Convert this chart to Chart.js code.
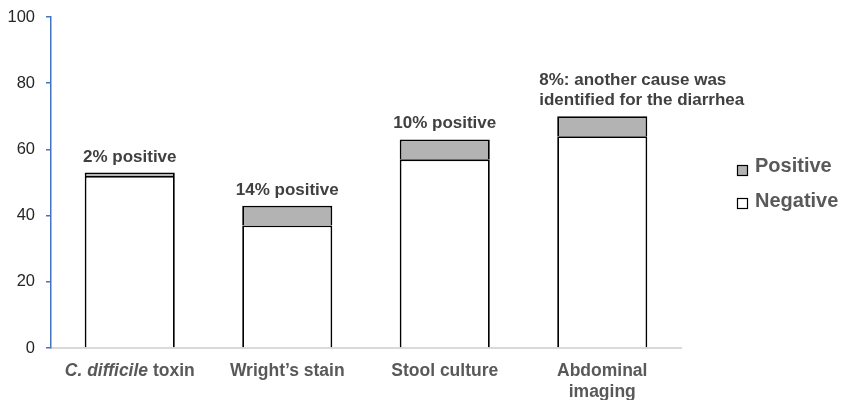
<!DOCTYPE html>
<html>
<head>
<meta charset="utf-8">
<script src="https://cdn.jsdelivr.net/npm/chart.js@4/dist/chart.umd.min.js"></script>
<style>
    html, body { margin: 0; padding: 0; background: #ffffff; }
    #wrap { width: 842px; height: 400px; }
</style>
</head>
<body>
<div id="wrap"><canvas id="stock-chart" width="842" height="400"></canvas></div>
<script>
// dados
const categories = ['C. difficile toxin', 'Wright\u2019s stain', 'Stool culture', 'Abdominal imaging'];
const xLabels = [['*C. difficile* toxin'], ['Wright\u2019s stain'], ['Stool culture'], ['Abdominal', 'imaging']];
const negativeValues = [52, 37, 57, 64];
const positiveValues = [1, 6, 6, 6];
const barNotes = [['2% positive'], ['14% positive'], ['10% positive'], ['8%: another cause was', 'identified for the diarrhea']];
const yTicks = [0, 20, 40, 60, 80, 100];

document.addEventListener("DOMContentLoaded", function() {
    const ctx = document.getElementById('stock-chart').getContext('2d');
    const sans = '"Liberation Sans", Arial, sans-serif';

    // rótulos do eixo x (com parte em itálico) + notas acima das barras + legenda
    const extras = {
        id: 'extras',
        afterDraw(chart) {
            const c = chart.ctx;
            const xs = chart.scales.x;
            c.save();
            c.fillStyle = '#595959';
            c.textBaseline = 'middle';
            xLabels.forEach(function(lines, i) {
                const cx = xs.getPixelForValue(i);
                lines.forEach(function(line, j) {
                    const raw = line.split('*');
                    const parts = [];
                    raw.forEach(function(p, k) {
                        if (p !== '') parts.push({ text: p, italic: k % 2 === 1 });
                    });
                    const widths = parts.map(function(p) {
                        c.font = (p.italic ? 'italic ' : '') + 'bold 17.5px ' + sans;
                        return c.measureText(p.text).width;
                    });
                    const total = widths.reduce(function(a, b) { return a + b; }, 0);
                    let x = cx - total / 2;
                    parts.forEach(function(p, k) {
                        c.font = (p.italic ? 'italic ' : '') + 'bold 17.5px ' + sans;
                        c.textAlign = 'left';
                        c.fillText(p.text, x, 371 + j * 21);
                        x += widths[k];
                    });
                });
            });

            // notas acima das barras
            const meta = chart.getDatasetMeta(1);
            c.fillStyle = '#404040';
            c.font = 'bold 17px ' + sans;
            c.textBaseline = 'alphabetic';
            barNotes.forEach(function(lines, i) {
                const bar = meta.data[i];
                const top = bar.y - 11;
                lines.forEach(function(line, j) {
                    const y = top - (lines.length - 1 - j) * 20;
                    if (lines.length > 1) {
                        c.textAlign = 'left';
                        c.fillText(line, bar.x - 63, y);
                    } else {
                        c.textAlign = 'center';
                        c.fillText(line, bar.x, y);
                    }
                });
            });

            // legenda
            const items = [chart.data.datasets[1], chart.data.datasets[0]];
            c.font = 'bold 20px ' + sans;
            c.textAlign = 'left';
            items.forEach(function(ds, k) {
                const by = 165 + k * 33;
                c.fillStyle = ds.backgroundColor;
                c.fillRect(737.5, by + 0.5, 10, 10);
                c.strokeStyle = '#000000';
                c.lineWidth = 1.2;
                c.strokeRect(737.5, by + 0.5, 10, 10);
                c.fillStyle = '#595959';
                c.fillText(ds.label, 755, by + 7 + (k * 2));
            });
            c.restore();
        }
    };

    new Chart(ctx, {
        type: 'bar',
        data: {
            labels: categories,
            datasets: [{
                label: 'Negative',
                data: negativeValues,
                backgroundColor: '#ffffff',
                borderColor: '#000000',
                borderWidth: 1.8,
                barPercentage: 0.572,
                categoryPercentage: 1
            }, {
                label: 'Positive',
                data: positiveValues,
                backgroundColor: '#b3b3b3',
                borderColor: '#000000',
                borderWidth: 1.8,
                barPercentage: 0.572,
                categoryPercentage: 1
            }]
        },
        options: {
            responsive: false,
            animation: false,
            devicePixelRatio: 1,
            layout: { padding: { left: 8, right: 161, top: 17, bottom: 0 } },
            plugins: {
                legend: { display: false },
                tooltip: { enabled: false }
            },
            scales: {
                x: {
                    stacked: true,
                    grid: { display: false },
                    border: { color: '#d9d9d9', width: 2 },
                    ticks: { display: false },
                    afterFit: function(scale) { scale.height = 52; }
                },
                y: {
                    stacked: true,
                    min: 0,
                    max: 100,
                    afterBuildTicks: function(scale) {
                        scale.ticks = yTicks.map(function(v) { return { value: v }; });
                    },
                    grid: { drawOnChartArea: false, drawTicks: true, tickLength: 5, color: '#4472C4', lineWidth: 1.5 },
                    border: { color: '#4472C4', width: 1.5 },
                    ticks: {
                        padding: 11,
                        color: '#262626',
                        font: { family: sans, size: 16.5 }
                    },
                    afterFit: function(scale) {
                        scale.width = 43;
                        scale.paddingTop = 0;
                        scale.paddingBottom = 0;
                    }
                }
            }
        },
        plugins: [extras]
    });
});
</script>
</body>
</html>
